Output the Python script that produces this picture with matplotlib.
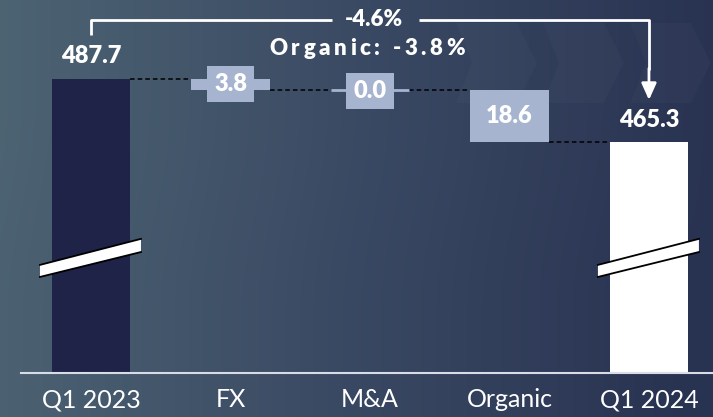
import numpy as np
import matplotlib.pyplot as plt
from matplotlib.colors import LinearSegmentedColormap
from matplotlib.patches import Polygon
from matplotlib.transforms import offset_copy

plt.rcParams['font.family'] = ['Lato', 'DejaVu Sans']

# revenue bridge, Q1 2023 -> Q1 2024
categories = ["Q1 2023", "FX", "M&A", "Organic", "Q1 2024"]
start_value = 487.7
end_value = 465.3
deltas = [3.8, 0.0, 18.6]          # decreases between the two quarters
total_change = "-4.6%"
organic_change = "Organic: -3.8%"

y_bottom = 382.7
y_top = 515.9
bar_w = 0.56

bg_left = (0.30, 0.39, 0.45)
bg_right = (0.16, 0.20, 0.32)
navy = "#1e2347"
delta_col = "#a6b4d0"

fig = plt.figure(figsize=(7.13, 4.17), dpi=100)

# gradient background
bg = fig.add_axes([0, 0, 1, 1])
grad = np.linspace(0, 1, 256).reshape(1, -1)
grad = np.vstack([grad, grad + 0.04])
cmap = LinearSegmentedColormap.from_list("bg", [bg_left, (0.23, 0.29, 0.39), bg_right])
bg.imshow(grad, aspect="auto", cmap=cmap, extent=[0, 1, 0, 1], vmin=0, vmax=1)
# faint chevrons
for cx in [0.64, 0.762, 0.884]:
    pts = [(cx, 0.945), (cx + 0.085, 0.945), (cx + 0.113, 0.849), (cx + 0.085, 0.753),
           (cx, 0.753), (cx + 0.022, 0.849)]
    bg.add_patch(Polygon(pts, closed=True, fc="white", ec="none", alpha=0.025))
bg.set_xlim(0, 1)
bg.set_ylim(0, 1)
bg.axis("off")

ax = fig.add_axes([21 / 713, 1 - 373 / 417, 1 - 21 / 713, 373 / 417])
ax.patch.set_alpha(0)
ax.set_xlim(-0.502, 4.459)
ax.set_ylim(y_bottom, y_top)

x = np.arange(len(categories))

# end bars
ax.bar(x[0], start_value - y_bottom, bottom=y_bottom, width=bar_w, color=navy, zorder=2)
ax.bar(x[4], end_value - y_bottom, bottom=y_bottom, width=bar_w, color="white", zorder=2)

# floating deltas
level = start_value
levels = [level]
for i, d in enumerate(deltas):
    xi = x[i + 1]
    if d > 0:
        ax.bar(xi, d, bottom=level - d, width=bar_w, color=delta_col, zorder=2)
    else:
        ax.hlines(level, xi - bar_w / 2, xi + bar_w / 2, color=delta_col, lw=2, zorder=2)
    level -= d
    levels.append(level)

# dashed connectors
for i in range(len(categories) - 1):
    ax.hlines(levels[i], x[i] + bar_w / 2, x[i + 1] - bar_w / 2, color="black",
              lw=1.1, linestyles=(0, (3, 2)), zorder=1)

# value labels
bold = dict(color="white", fontweight="heavy", fontsize=17, ha="center", va="center")
ax.text(x[0], start_value + 8.3, f"{start_value:.1f}", **bold)
ax.text(x[4], end_value + 7.6, f"{end_value:.1f}", **bold)
box = dict(boxstyle="square,pad=0.3", fc=delta_col, ec="none")
ax.text(x[1], start_value - deltas[0] / 2, f"{deltas[0]:.1f}", bbox=box, zorder=3, **bold)
ax.text(x[2], levels[2] - 0.4, f"{deltas[1]:.1f}", bbox=box, zorder=3, **bold)
ax.text(x[3], levels[2] - deltas[2] / 2, f"{deltas[2]:.1f}", zorder=3, **bold)

# axis break marks
for xi in [x[0], x[4]]:
    pts = [(xi - 0.366, 421.3), (xi + 0.358, 430.6), (xi + 0.358, 425.9), (xi - 0.366, 417.0)]
    ax.add_patch(Polygon(pts, closed=True, fc="white", ec="none", zorder=3))
    ax.plot([pts[0][0], pts[1][0]], [pts[0][1], pts[1][1]], color="black", lw=1.3, zorder=4)
    ax.plot([pts[3][0], pts[2][0]], [pts[3][1], pts[2][1]], color="black", lw=1.3, zorder=4)

# change bracket
br_y = 508.8
mid = 2.03
ax.plot([x[0], x[0], mid - 0.3], [503.4, br_y, br_y], color="white", lw=2, zorder=3,
        solid_capstyle="butt")
ax.plot([mid + 0.32, x[4], x[4]], [br_y, br_y, 491.0], color="white", lw=2, zorder=3,
        solid_capstyle="butt")
ax.annotate("", xy=(x[4], 480.2), xytext=(x[4], 491.5),
            arrowprops=dict(arrowstyle="-|>,head_width=0.45,head_length=1.0",
                            color="white", lw=2, shrinkA=0, shrinkB=0), zorder=3)
ax.text(mid, br_y, total_change, color="white", fontweight="heavy", fontsize=16,
        ha="center", va="center")


def spaced_text(s, xc, yc, tracking, **kw):
    r = fig.canvas.get_renderer()
    ref = ax.text(0, 0, "xx", **kw)
    base = ref.get_window_extent(r).width
    ref.remove()
    widths = []
    for ch in s:
        t = ax.text(0, 0, "x" + ch + "x", **kw)
        widths.append(t.get_window_extent(r).width - base)
        t.remove()
    total = sum(widths) + tracking * (len(s) - 1)
    off = -total / 2
    for ch, w in zip(s, widths):
        tr = offset_copy(ax.transData, fig=fig, x=off * 72 / fig.dpi, y=0, units="points")
        ax.text(xc, yc, ch, transform=tr, ha="left", va="center", **kw)
        off += w + tracking


spaced_text(organic_change, 1.98, 498.6, 3.6, color="white", fontweight="heavy", fontsize=16)

# axes
for s in ["top", "right", "left"]:
    ax.spines[s].set_visible(False)
ax.spines["bottom"].set_color("#d8dce6")
ax.spines["bottom"].set_linewidth(1.5)
ax.set_yticks([])
ax.set_xticks(x)
ax.set_xticklabels(categories, color="white", fontsize=18)
ax.tick_params(axis="x", length=0, pad=11)

fig.savefig("out.png", dpi=100)
